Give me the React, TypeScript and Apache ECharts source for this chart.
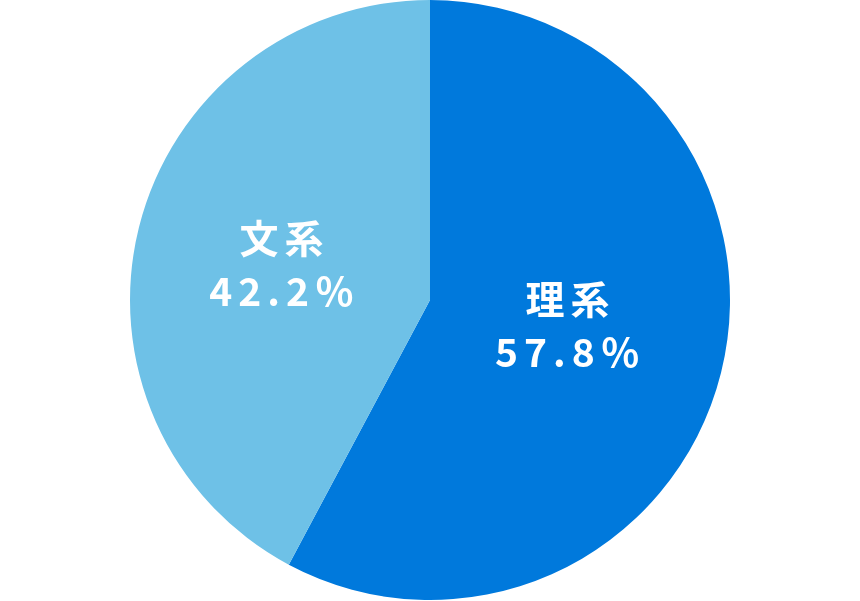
import React, { useEffect, useRef } from "react";
import * as echarts from "echarts";

const categories = ["理系", "文系"];
const values = [57.8, 42.2];
const colors = ["#0079DC", "#6EC1E7"];
const labelPadding = [
  [0, 22, 28, 0],
  [0, 0, 0, 0],
];

const spaced = (s: string) =>
  s
    .split("")
    .map((ch) => "{c|" + ch + "}")
    .join("");

export default function App() {
  const ref = useRef<HTMLDivElement>(null);
  useEffect(() => {
    if (!ref.current) return;
    const chart = echarts.init(ref.current, undefined, { renderer: "svg" });
    chart.setOption({
      animation: false,
      series: [
        {
          type: "pie",
          center: [430, 300],
          radius: [0, 300],
          startAngle: 90,
          clockwise: true,
          data: categories.map((c, i) => ({
            name: c,
            value: values[i],
            itemStyle: { color: colors[i] },
            label: { padding: labelPadding[i] },
          })),
          label: {
            show: true,
            position: "inside",
            color: "#ffffff",
            fontFamily: "Noto Sans CJK JP",
            fontWeight: "bold",
            fontSize: 39,
            lineHeight: 53,
            align: "center",
            formatter: (p: any) =>
              spaced(p.name) + "\n" + spaced(p.value.toFixed(1) + "％"),
            rich: {
              c: {
                color: "#ffffff",
                fontFamily: "Noto Sans CJK JP",
                fontWeight: "bold",
                fontSize: 39,
                lineHeight: 53,
                padding: [0, 3, 0, 3],
              },
            },
          },
          labelLine: { show: false },
          emphasis: { disabled: true },
        },
      ],
    });
    return () => chart.dispose();
  }, []);
  return (
    <div
      ref={ref}
      style={{ position: "fixed", left: 0, top: 0, width: 860, height: 601 }}
    />
  );
}
